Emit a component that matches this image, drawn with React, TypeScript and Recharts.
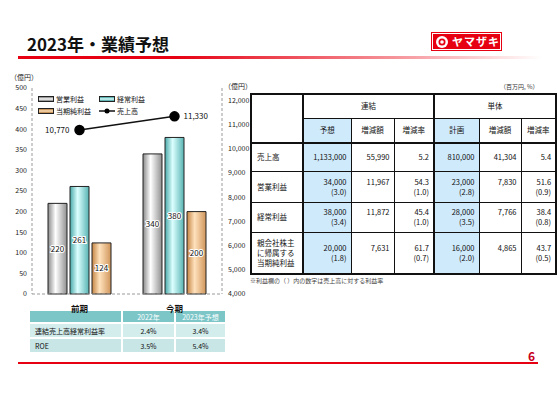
import * as React from 'react';
import { ComposedChart, Bar, Line, XAxis, YAxis, Legend, LabelList } from 'recharts';

// グラフの値
const periods = ['前期', '今期'];
const operatingProfit = [220, 340];
const ordinaryProfit = [261, 380];
const netIncome = [124, 200];
const netSales = [10770, 11330];
const leftTicks = [0, 50, 100, 150, 200, 250, 300, 350, 400, 450, 500];
const rightTicks = [4000, 5000, 6000, 7000, 8000, 9000, 10000, 11000, 12000];

// 下の小さい表
const ratioYears = ['2022年', '2023年予想'];
const ratioLabels = ['連結売上高経常利益率', 'ROE'];
const ratioValues = [
  ['2.4%', '3.4%'],
  ['3.5%', '5.4%'],
];

// 右の表
const tableGroups = ['連結', '単体'];
const tableCols = ['予想', '増減額', '増減率', '計画', '増減額', '増減率'];
const tableRows = [['売上高'], ['営業利益'], ['経常利益'], ['親会社株主', 'に帰属する', '当期純利益']];
const tableValues = [
  ['1,133,000', '55,990', '5.2', '810,000', '41,304', '5.4'],
  ['34,000', '11,967', '54.3', '23,000', '7,830', '51.6'],
  ['38,000', '11,872', '45.4', '28,000', '7,766', '38.4'],
  ['20,000', '7,631', '61.7', '16,000', '4,865', '43.7'],
];
const tableMargins = [
  ['', '', '', '', '', ''],
  ['(3.0)', '', '(1.0)', '(2.8)', '', '(0.9)'],
  ['(3.4)', '', '(1.0)', '(3.5)', '', '(0.8)'],
  ['(1.8)', '', '(0.7)', '(2.0)', '', '(0.5)'],
];

const chartData = periods.map((p, i) => ({
  period: p,
  op: operatingProfit[i],
  ord: ordinaryProfit[i],
  net: netIncome[i],
  sales: netSales[i],
}));

const FONT = '"Noto Sans CJK JP", "Noto Sans", sans-serif';
const DASH = '#9a9a9a';

const legendItems = [
  { name: '営業利益', bg: 'linear-gradient(to bottom, #7a7a7a, #ffffff 50%, #7a7a7a)' },
  { name: '経常利益', bg: 'linear-gradient(to bottom, #3c9c9c, #dcffff 50%, #3c9c9c)' },
  { name: '当期純利益', bg: 'linear-gradient(to bottom, #b57a3c, #ffe3bd 50%, #b57a3c)' },
  { name: '売上高', bg: '' },
];

function LegendBox() {
  return (
    <div style={{ display: 'grid', gridTemplateColumns: '61px 60px', rowGap: 4, fontSize: 7, fontFamily: FONT, color: '#111' }}>
      {legendItems.map((it) => (
        <div key={it.name} style={{ display: 'flex', alignItems: 'center', height: 8 }}>
          {it.bg ? (
            <span style={{ width: 14, height: 4, border: '1px solid #222', background: it.bg, marginRight: 2 }} />
          ) : (
            <svg width={16} height={8} style={{ marginRight: 2 }}>
              <line x1={0} y1={4} x2={16} y2={4} stroke="#111" strokeWidth={1.5} />
              <circle cx={8} cy={4} r={2.5} fill="#000" />
            </svg>
          )}
          <span>{it.name}</span>
        </div>
      ))}
    </div>
  );
}

function SalesLabel(props: any) {
  const { x, y, value, index } = props;
  const left = index === 0;
  return (
    <text x={left ? x - 10 : x + 9} y={y + 3} textAnchor={left ? 'end' : 'start'} fontSize={8} fill="#111" fontFamily={FONT}>
      {Number(value).toLocaleString('en-US')}
    </text>
  );
}

const barLabel = { fontSize: 8, fill: '#111', fontFamily: FONT, stroke: '#fff', strokeWidth: 2, paintOrder: 'stroke' } as any;

function ProfitChart() {
  return (
    <ComposedChart width={260} height={320} data={chartData} margin={{ top: 88, right: 8, bottom: 6, left: 0 }} barGap={3}>
      <defs>
        <linearGradient id="gGray" x1="0" y1="0" x2="1" y2="0">
          <stop offset="0%" stopColor="#8a8a8a" />
          <stop offset="40%" stopColor="#ffffff" />
          <stop offset="100%" stopColor="#8f8f8f" />
        </linearGradient>
        <linearGradient id="gCyan" x1="0" y1="0" x2="1" y2="0">
          <stop offset="0%" stopColor="#4aa9a9" />
          <stop offset="40%" stopColor="#dcffff" />
          <stop offset="100%" stopColor="#58b3b3" />
        </linearGradient>
        <linearGradient id="gOrange" x1="0" y1="0" x2="1" y2="0">
          <stop offset="0%" stopColor="#c58443" />
          <stop offset="40%" stopColor="#ffe2bd" />
          <stop offset="100%" stopColor="#d0955a" />
        </linearGradient>
      </defs>
      <XAxis
        dataKey="period"
        xAxisId={0}
        height={20}
        axisLine={{ stroke: DASH, strokeDasharray: '3 2' }}
        tickLine={false}
        tickMargin={6}
        tick={{ fontSize: 8.5, fill: '#111', fontFamily: FONT, fontWeight: 700 }}
      />
      <XAxis
        dataKey="period"
        xAxisId="top"
        orientation="top"
        height={0}
        tick={false}
        tickLine={false}
        axisLine={{ stroke: DASH, strokeDasharray: '3 2' }}
      />
      <YAxis
        yAxisId="left"
        width={32}
        domain={[0, 500]}
        ticks={leftTicks}
        interval={0}
        tickSize={3}
        tickMargin={2}
        tickLine={false}
        axisLine={{ stroke: DASH, strokeDasharray: '3 2' }}
        tick={{ fontSize: 7, fill: '#222', fontFamily: FONT }}
      />
      <YAxis
        yAxisId="right"
        orientation="right"
        width={30}
        domain={[4000, 12500]}
        ticks={rightTicks}
        interval={0}
        tickSize={4}
        tickMargin={2}
        tickLine={false}
        axisLine={{ stroke: DASH, strokeDasharray: '3 2' }}
        tickFormatter={(v: number) => v.toLocaleString('en-US')}
        tick={{ fontSize: 7, fill: '#222', fontFamily: FONT }}
      />
      <Legend
        layout="vertical"
        align="center"
        verticalAlign="middle"
        wrapperStyle={{ top: 95, left: 38, width: 125 }}
        content={() => <LegendBox />}
      />
      <Bar yAxisId="left" dataKey="op" name="営業利益" barSize={19} fill="url(#gGray)" stroke="#222" strokeWidth={1} isAnimationActive={false}>
        <LabelList dataKey="op" position="center" style={barLabel} />
      </Bar>
      <Bar yAxisId="left" dataKey="ord" name="経常利益" barSize={19} fill="url(#gCyan)" stroke="#222" strokeWidth={1} isAnimationActive={false}>
        <LabelList dataKey="ord" position="center" style={barLabel} />
      </Bar>
      <Bar yAxisId="left" dataKey="net" name="当期純利益" barSize={19} fill="url(#gOrange)" stroke="#222" strokeWidth={1} isAnimationActive={false}>
        <LabelList dataKey="net" position="center" style={barLabel} />
      </Bar>
      <Line
        yAxisId="right"
        dataKey="sales"
        name="売上高"
        stroke="#111"
        strokeWidth={1.5}
        dot={{ r: 4.5, fill: '#000', stroke: '#000' }}
        isAnimationActive={false}
      >
        <LabelList dataKey="sales" content={SalesLabel} />
      </Line>
    </ComposedChart>
  );
}

const colW = [52, 48, 43, 40, 45, 42, 35];
const headH = [24, 25];
const rowH = [28, 31, 30, 42];
const BLUE = '#cfeafb';

function ForecastTable() {
  const thick = '2px solid #111';
  const thin = '1px solid #111';
  const cellBase: React.CSSProperties = { padding: 0, fontSize: 7.5, lineHeight: '10px', color: '#111', boxSizing: 'border-box' };
  return (
    <table
      style={{ position: 'absolute', left: 250, top: 93, borderCollapse: 'collapse', tableLayout: 'fixed', width: 305, border: thick, fontFamily: FONT }}
    >
      <colgroup>
        {colW.map((w, i) => (
          <col key={i} style={{ width: w }} />
        ))}
      </colgroup>
      <tbody>
        <tr style={{ height: headH[0] }}>
          <td rowSpan={2} style={{ ...cellBase, borderRight: thick, borderBottom: thick }} />
          {tableGroups.map((g, gi) => (
            <td key={g} colSpan={3} style={{ ...cellBase, textAlign: 'center', borderBottom: thin, borderRight: gi === 0 ? thick : thin }}>
              {g}
            </td>
          ))}
        </tr>
        <tr style={{ height: headH[1] }}>
          {tableCols.map((c, ci) => (
            <td
              key={ci}
              style={{
                ...cellBase,
                textAlign: 'center',
                borderBottom: thick,
                borderRight: ci === 2 ? thick : thin,
                background: ci % 3 === 0 ? BLUE : '#fff',
              }}
            >
              {c}
            </td>
          ))}
        </tr>
        {tableRows.map((r, ri) => (
          <tr key={ri} style={{ height: rowH[ri] }}>
            <td style={{ ...cellBase, borderRight: thick, borderBottom: thin, paddingLeft: 5, verticalAlign: 'middle' }}>
              {r.map((line) => (
                <div key={line}>{line}</div>
              ))}
            </td>
            {tableValues[ri].map((v, ci) => (
              <td
                key={ci}
                style={{
                  ...cellBase,
                  textAlign: 'right',
                  paddingRight: 4,
                  borderBottom: thin,
                  borderRight: ci === 2 ? thick : thin,
                  background: ci % 3 === 0 ? BLUE : '#fff',
                  verticalAlign: 'middle',
                }}
              >
                <div>{v}</div>
                {ri > 0 && <div>{tableMargins[ri][ci] || '\u00a0'}</div>}
              </td>
            ))}
          </tr>
        ))}
      </tbody>
    </table>
  );
}

function RatioTable() {
  const teal = '#7cc6c8';
  const light = ['#d3ecec', '#c9e6e7'];
  const td: React.CSSProperties = { padding: 0, fontSize: 7, color: '#111', borderBottom: '2px solid #fff', borderRight: '2px solid #fff' };
  return (
    <table
      style={{ position: 'absolute', left: 30, top: 311, width: 196, borderCollapse: 'collapse', tableLayout: 'fixed', fontFamily: FONT }}
    >
      <colgroup>
        <col style={{ width: 92 }} />
        <col style={{ width: 53 }} />
        <col style={{ width: 51 }} />
      </colgroup>
      <tbody>
        <tr style={{ height: 12, background: teal }}>
          <td style={td} />
          {ratioYears.map((y) => (
            <td key={y} style={{ ...td, color: '#fff', textAlign: 'center' }}>
              {y}
            </td>
          ))}
        </tr>
        {ratioLabels.map((l, i) => (
          <tr key={l} style={{ height: 15, background: light[i] }}>
            <td style={{ ...td, paddingLeft: 5 }}>{l}</td>
            {ratioValues[i].map((v, j) => (
              <td key={j} style={{ ...td, textAlign: 'center' }}>
                {v}
              </td>
            ))}
          </tr>
        ))}
      </tbody>
    </table>
  );
}

export default function App() {
  return (
    <div style={{ position: 'absolute', left: 0, top: 0, width: 560, height: 396, background: '#fff', fontFamily: FONT, overflow: 'hidden' }}>
      <div style={{ position: 'absolute', left: 27, top: 34, fontSize: 17, lineHeight: '20px', fontWeight: 700, color: '#111' }}>
        2023年・業績予想
      </div>
      <div
        style={{
          position: 'absolute',
          left: 18,
          top: 56,
          width: 524,
          height: 3,
          background: 'linear-gradient(to right, #e60012 0%, #e60012 30%, rgba(240,80,90,0.55) 75%, rgba(255,255,255,0) 100%)',
        }}
      />
      {/* ロゴ */}
      <div
        style={{
          position: 'absolute',
          left: 432,
          top: 33,
          width: 69,
          height: 17,
          background: '#e60012',
          boxSizing: 'border-box',
          border: '1px solid #fff',
          outline: '1px solid #e60012',
          display: 'flex',
          alignItems: 'center',
        }}
      >
        <svg width={14} height={14} style={{ marginLeft: 2 }}>
          <circle cx={7} cy={7} r={6} fill="#fff" />
          <circle cx={7} cy={7} r={3.5} fill="#e60012" />
          <circle cx={7} cy={7} r={1.8} fill="#fff" />
        </svg>
        <span style={{ color: '#fff', fontSize: 11, fontWeight: 700, marginLeft: 3, letterSpacing: 1, lineHeight: '15px' }}>ヤマザキ</span>
      </div>

      <div style={{ position: 'absolute', left: 10, top: 72, fontSize: 7, color: '#222' }}>（億円）</div>
      <div style={{ position: 'absolute', left: 224, top: 81, fontSize: 7, color: '#222' }}>（億円）</div>

      <RatioTable />

      <div style={{ position: 'absolute', left: 0, top: 0 }}>
        <ProfitChart />
      </div>

      <div style={{ position: 'absolute', left: 500, top: 82, fontSize: 6, color: '#333' }}>（百万円, %）</div>
      <ForecastTable />
      <div style={{ position: 'absolute', left: 250, top: 276, fontSize: 6, color: '#444' }}>
        ※利益欄の（ ）内の数字は売上高に対する利益率
      </div>

      <div style={{ position: 'absolute', left: 528, top: 347, fontSize: 12, fontWeight: 700, color: '#c8001e' }}>6</div>
      <div style={{ position: 'absolute', left: 18, top: 362, width: 520, height: 2, background: '#e60012' }} />
    </div>
  );
}
